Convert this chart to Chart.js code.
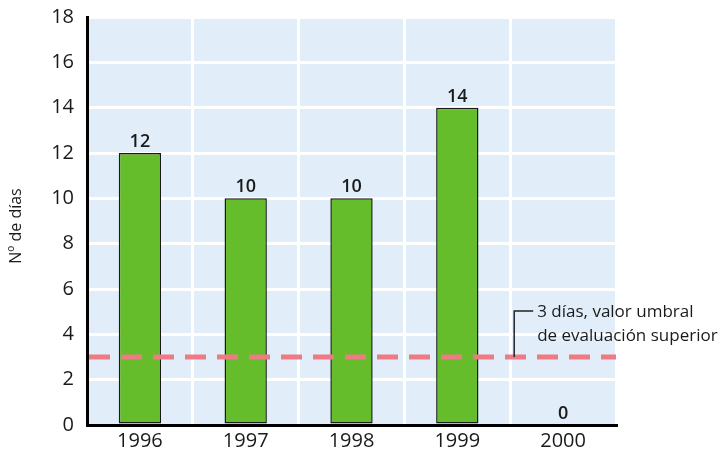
<!DOCTYPE html>
<html>
<head>
<meta charset="utf-8">
<script src="https://cdn.jsdelivr.net/npm/chart.js@4"></script>
<style>
html,body{margin:0;padding:0;background:#fff;}
#wrap{width:726px;height:452px;position:relative;}
</style>
</head>
<body>
<div id="wrap"><canvas id="c" width="726" height="452"></canvas></div>
<script>
const categories = ['1996', '1997', '1998', '1999', '2000'];
const days = [12, 10, 10, 14, 0];
const yTicks = [0, 2, 4, 6, 8, 10, 12, 14, 16, 18];
const threshold = 3;
const thresholdLabel = ['3 días, valor umbral', 'de evaluación superior'];
const yTitle = 'Nº de días';

const FONT = '"Open Sans", "Noto Sans", sans-serif';

const bgPlugin = {
  id: 'bg',
  beforeDraw(chart) {
    const {ctx, chartArea: a} = chart;
    ctx.save();
    ctx.fillStyle = '#e1eefa';
    ctx.fillRect(a.left, a.top, a.right - a.left, a.bottom - a.top);
    ctx.restore();
  }
};

const overlayPlugin = {
  id: 'overlay',
  afterDatasetsDraw(chart) {
    const {ctx, chartArea: a, scales} = chart;
    const y = scales.y.getPixelForValue(threshold);
    ctx.save();
    // threshold dashed line
    ctx.strokeStyle = '#ef7a85';
    ctx.lineWidth = 5;
    ctx.setLineDash([21, 11]);
    ctx.lineDashOffset = -2;
    ctx.beginPath();
    ctx.moveTo(a.left, y);
    ctx.lineTo(a.right, y);
    ctx.stroke();
    ctx.setLineDash([]);
    // leader line
    const lx = scales.x.getPixelForValue(3.5) + 4;
    ctx.strokeStyle = '#222';
    ctx.lineWidth = 1.5;
    ctx.beginPath();
    ctx.moveTo(lx, y);
    ctx.lineTo(lx, y - 46);
    ctx.lineTo(lx + 19, y - 46);
    ctx.stroke();
    // label text
    ctx.fillStyle = '#1a1a1a';
    ctx.font = '17px ' + FONT;
    ctx.textAlign = 'left';
    ctx.textBaseline = 'alphabetic';
    ctx.fillText(thresholdLabel[0], lx + 23, y - 40);
    ctx.fillText(thresholdLabel[1], lx + 23, y - 16);
    // data labels
    ctx.font = '600 18px ' + FONT;
    ctx.textAlign = 'center';
    const meta = chart.getDatasetMeta(0);
    meta.data.forEach((bar, i) => {
      ctx.fillText(String(days[i]), bar.x, bar.y - 6);
    });
    // y title
    ctx.font = '16px ' + FONT;
    ctx.translate(16, 226);
    ctx.rotate(-Math.PI / 2);
    ctx.textBaseline = 'middle';
    ctx.fillText(yTitle, 0, 0);
    ctx.restore();
  }
};

new Chart(document.getElementById('c'), {
  type: 'bar',
  data: {
    labels: categories,
    datasets: [{
      data: days,
      backgroundColor: '#66bd2b',
      borderColor: '#1a1a1a',
      borderWidth: 1.5,
      borderSkipped: false,
      barPercentage: 0.4,
      categoryPercentage: 1.0
    }]
  },
  options: {
    responsive: false,
    animation: false,
    layout: {padding: {left: 0, right: 110, top: 17, bottom: 0}},
    plugins: {legend: {display: false}, tooltip: {enabled: false}},
    scales: {
      x: {
        grid: {color: '#ffffff', lineWidth: 3, drawTicks: false, offset: true},
        border: {color: '#000', width: 3},
        ticks: {color: '#1a1a1a', font: {family: FONT, size: 20}, padding: 4},
        afterFit(s) { s.height = 27; s.paddingLeft = 0; s.paddingRight = 0; }
      },
      y: {
        min: 0, max: 18,
        afterBuildTicks(s) { s.ticks = yTicks.map(v => ({value: v})); },
        grid: {color: '#ffffff', lineWidth: 3, drawTicks: false},
        border: {color: '#000', width: 3},
        ticks: {color: '#1a1a1a', font: {family: FONT, size: 20}, padding: 13},
        afterFit(s) { s.width = 87; s.paddingTop = 0; s.paddingBottom = 0; }
      }
    }
  },
  plugins: [bgPlugin, overlayPlugin]
});
</script>
</body>
</html>
